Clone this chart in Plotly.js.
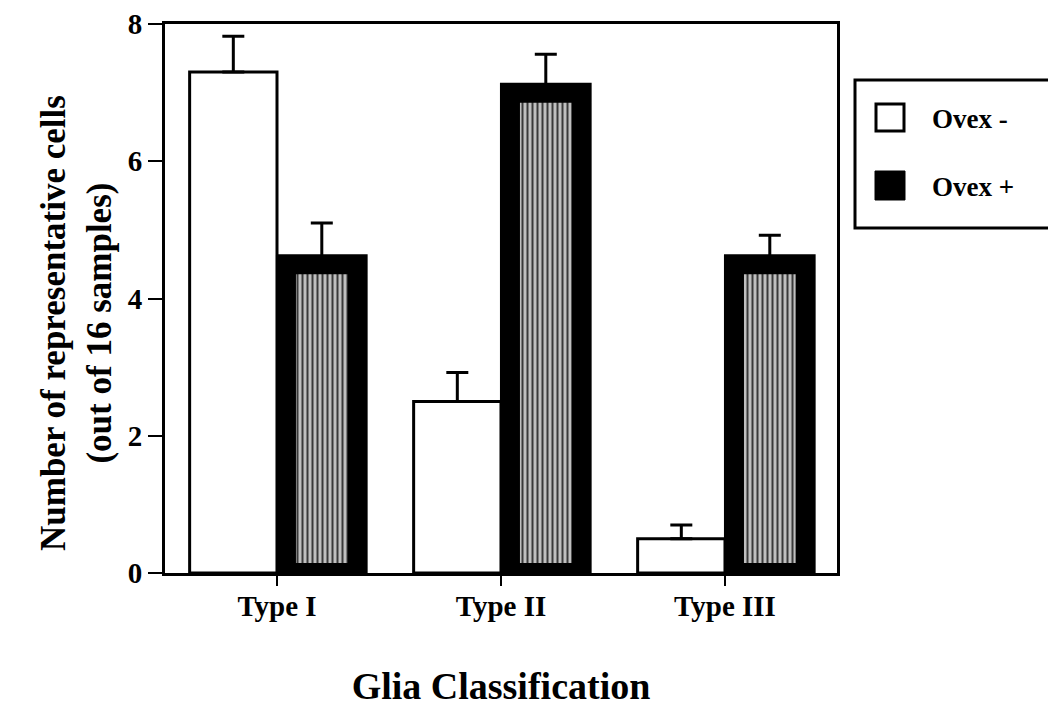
<!DOCTYPE html>
<html>
<head>
<meta charset="utf-8">
<script src="https://cdn.plot.ly/plotly-3.0.1.min.js"></script>
<style>
html,body{margin:0;padding:0;background:#fff;}
#chart{width:1048px;height:714px;}
</style>
</head>
<body>
<div id="chart"></div>
<script>
var categories = ["Type I", "Type II", "Type III"];
var seriesNames = ["Ovex -", "Ovex +"];
var ovexMinus = [7.3, 2.5, 0.5];
var ovexMinusErr = [0.52, 0.42, 0.2];
var ovexPlus = [4.5, 7.0, 4.5];
var ovexPlusErr = [0.6, 0.56, 0.42];
var yTicks = [0, 2, 4, 6, 8];
var yTitle = "Number of representative cells<br>(out of 16 samples)";
var xTitle = "Glia Classification";

var FONT = "Liberation Serif, Times New Roman, serif";

function zeros(a){ return a.map(function(){ return 0; }); }

var traceMinus = {
  type: "bar",
  name: seriesNames[0],
  x: categories,
  y: ovexMinus,
  offset: -0.39,
  width: 0.39,
  marker: {color: "#ffffff", line: {color: "#000", width: 3}},
  error_y: {type: "data", symmetric: false, array: ovexMinusErr, arrayminus: zeros(ovexMinusErr),
            color: "#000", thickness: 3, width: 11},
  showlegend: false,
  hoverinfo: "skip"
};

var tracePlus = {
  type: "bar",
  name: seriesNames[1],
  x: categories,
  y: ovexPlus,
  offset: 0.04,
  width: 0.32,
  marker: {
    color: "#a8a8a8",
    line: {color: "#000", width: 20},
    pattern: {shape: "|", fgcolor: "#3a3a3a", bgcolor: "#c0c0c0", size: 5, solidity: 0.4, fillmode: "replace"}
  },
  error_y: {type: "data", symmetric: false, array: ovexPlusErr, arrayminus: zeros(ovexPlusErr),
            color: "#000", thickness: 3, width: 11},
  showlegend: false,
  hoverinfo: "skip"
};

var L = 165, R = 837, T = 24, B = 573;
var W = R - L, H = B - T;
function px(x){ return (x - L) / W; }
function py(y){ return (B - y) / H; }

var shapes = [
  {type: "rect", xref: "paper", yref: "paper", x0: px(855), x1: px(1052), y0: py(228), y1: py(80),
   line: {color: "#000", width: 3}, fillcolor: "rgba(0,0,0,0)"},
  {type: "rect", xref: "paper", yref: "paper", x0: px(876), x1: px(904), y0: py(131), y1: py(104),
   line: {color: "#000", width: 3}, fillcolor: "#fff"},
  {type: "rect", xref: "paper", yref: "paper", x0: px(875), x1: px(905), y0: py(200), y1: py(171),
   line: {color: "#000", width: 1}, fillcolor: "#000"}
];

var annotations = [
  {xref: "paper", yref: "paper", x: px(930), y: py(119), xanchor: "left", yanchor: "middle",
   text: "<b>" + seriesNames[0] + "</b>", showarrow: false, font: {family: FONT, size: 27, color: "#000"}},
  {xref: "paper", yref: "paper", x: px(930), y: py(187), xanchor: "left", yanchor: "middle",
   text: "<b>" + seriesNames[1] + "</b>", showarrow: false, font: {family: FONT, size: 27, color: "#000"}},
  {xref: "paper", yref: "paper", x: px(76), y: py(323), xanchor: "center", yanchor: "middle",
   textangle: -90, text: "<b>" + yTitle + "</b>", showarrow: false,
   font: {family: FONT, size: 35, color: "#000"}}
];

var layout = {
  width: 1048, height: 714,
  margin: {l: L, r: 1048 - R, t: T, b: 714 - B, pad: 0},
  paper_bgcolor: "#fff", plot_bgcolor: "#fff",
  barmode: "overlay",
  showlegend: false,
  font: {family: FONT, color: "#000"},
  xaxis: {
    range: [-0.5, 2.5],
    tickvals: categories, ticktext: categories.map(function(c){ return "<b>" + c + "</b>"; }),
    ticks: "outside", ticklen: 10, tickwidth: 2, tickcolor: "#000",
    ticklabelstandoff: -5,
    tickfont: {family: FONT, size: 29, color: "#000"},
    showline: true, linewidth: 3, linecolor: "#000", mirror: true,
    showgrid: false, zeroline: false,
    title: {text: "<b>" + xTitle + "</b>", font: {family: FONT, size: 38, color: "#000"}, standoff: 52}
  },
  yaxis: {
    range: [0, 8],
    tickvals: yTicks, ticktext: yTicks.map(function(v){ return "<b>" + v + "</b>"; }),
    ticks: "outside", ticklen: 14, tickwidth: 2, tickcolor: "#000",
    tickfont: {family: FONT, size: 29, color: "#000"},
    showline: true, linewidth: 3, linecolor: "#000", mirror: true,
    showgrid: false, zeroline: false
  },
  shapes: shapes,
  annotations: annotations
};

Plotly.newPlot("chart", [traceMinus, tracePlus], layout, {staticPlot: true, displayModeBar: false});
</script>
</body>
</html>
